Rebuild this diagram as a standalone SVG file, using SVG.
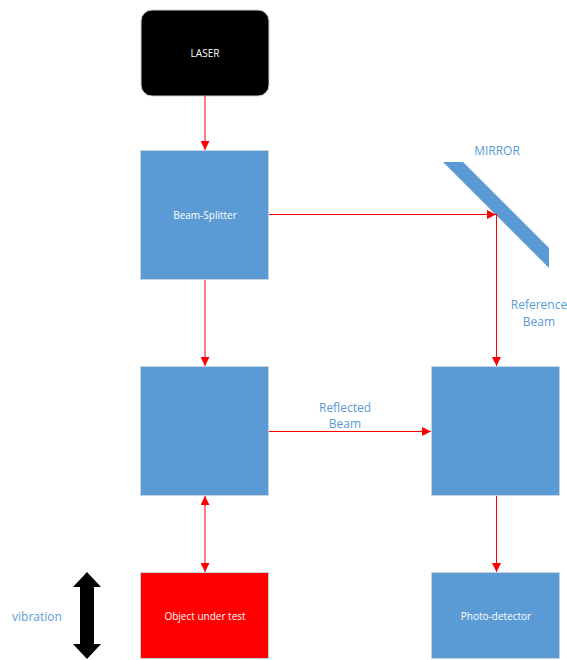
<svg xmlns="http://www.w3.org/2000/svg" width="567" height="660" viewBox="0 0 567 660">
<defs>
<marker id="ah" viewBox="0 0 10 10" refX="10" refY="5" markerWidth="9" markerHeight="9" markerUnits="userSpaceOnUse" orient="auto-start-reverse">
<path d="M0,0 L10,5 L0,10 z" fill="#ff0000"/>
</marker>
</defs>
<style>
.box{fill:#5b9bd5;stroke:#c9d3de;stroke-width:1}
.lbl{font-family:"Open Sans","Liberation Sans",sans-serif;font-size:10px;fill:#ffffff;text-anchor:middle}
.blue{font-family:"Open Sans","Liberation Sans",sans-serif;font-size:12px;fill:#5b9bd5;text-anchor:middle}
.ray{stroke:#ff0000;stroke-width:1;fill:none}
</style>
<rect width="567" height="660" fill="#ffffff"/>
<g id="laser">
<rect x="141" y="10" width="128" height="86" rx="11" fill="#000000" stroke="#c9d3de" stroke-width="1"/>
<text class="lbl" x="205" y="57">LASER</text>
</g>
<g id="beam-splitter">
<rect class="box" x="140.500" y="150.500" width="128" height="129"/>
<text class="lbl" x="205" y="219">Beam-Splitter</text>
</g>
<g id="mirror">
<polygon points="443,162 463,162 549,248 549,268" fill="#5b9bd5"/>
<text class="blue" x="497" y="155">MIRROR</text>
</g>
<g id="middle-box">
<rect class="box" x="140.500" y="366.500" width="128" height="129"/>
</g>
<g id="right-box">
<rect class="box" x="431.500" y="366.500" width="128" height="129"/>
</g>
<g id="object">
<rect x="140.500" y="572.500" width="128" height="86" fill="#ff0000" stroke="#c9d3de" stroke-width="1"/>
<text class="lbl" x="205" y="620">Object under test</text>
</g>
<g id="photo-detector">
<rect class="box" x="431.500" y="572.500" width="128" height="86"/>
<text class="lbl" x="496" y="620">Photo-detector</text>
</g>
<g id="vibration">
<polygon points="87,572 101,587 94,587 94,644 101,644 87,659 73,644 80,644 80,587 73,587" fill="#000000"/>
<text class="blue" x="37" y="621">vibration</text>
</g>
<g id="labels">
<text class="blue" x="539" y="309">Reference</text>
<text class="blue" x="539" y="326">Beam</text>
<text class="blue" x="345" y="412">Reflected</text>
<text class="blue" x="345" y="428">Beam</text>
</g>
<g id="connectors">
<line class="ray" x1="205" y1="96" x2="205" y2="150" marker-end="url(#ah)"/>
<line class="ray" x1="269" y1="214.500" x2="496" y2="214.500" marker-end="url(#ah)"/>
<line class="ray" x1="496.500" y1="214" x2="496.500" y2="366" marker-end="url(#ah)"/>
<line class="ray" x1="205" y1="280" x2="205" y2="366" marker-end="url(#ah)"/>
<line class="ray" x1="269" y1="431.500" x2="431" y2="431.500" marker-end="url(#ah)"/>
<line class="ray" x1="205" y1="496" x2="205" y2="572" marker-start="url(#ah)" marker-end="url(#ah)"/>
<line class="ray" x1="496.500" y1="496" x2="496.500" y2="572" marker-end="url(#ah)"/>
</g>
</svg>
